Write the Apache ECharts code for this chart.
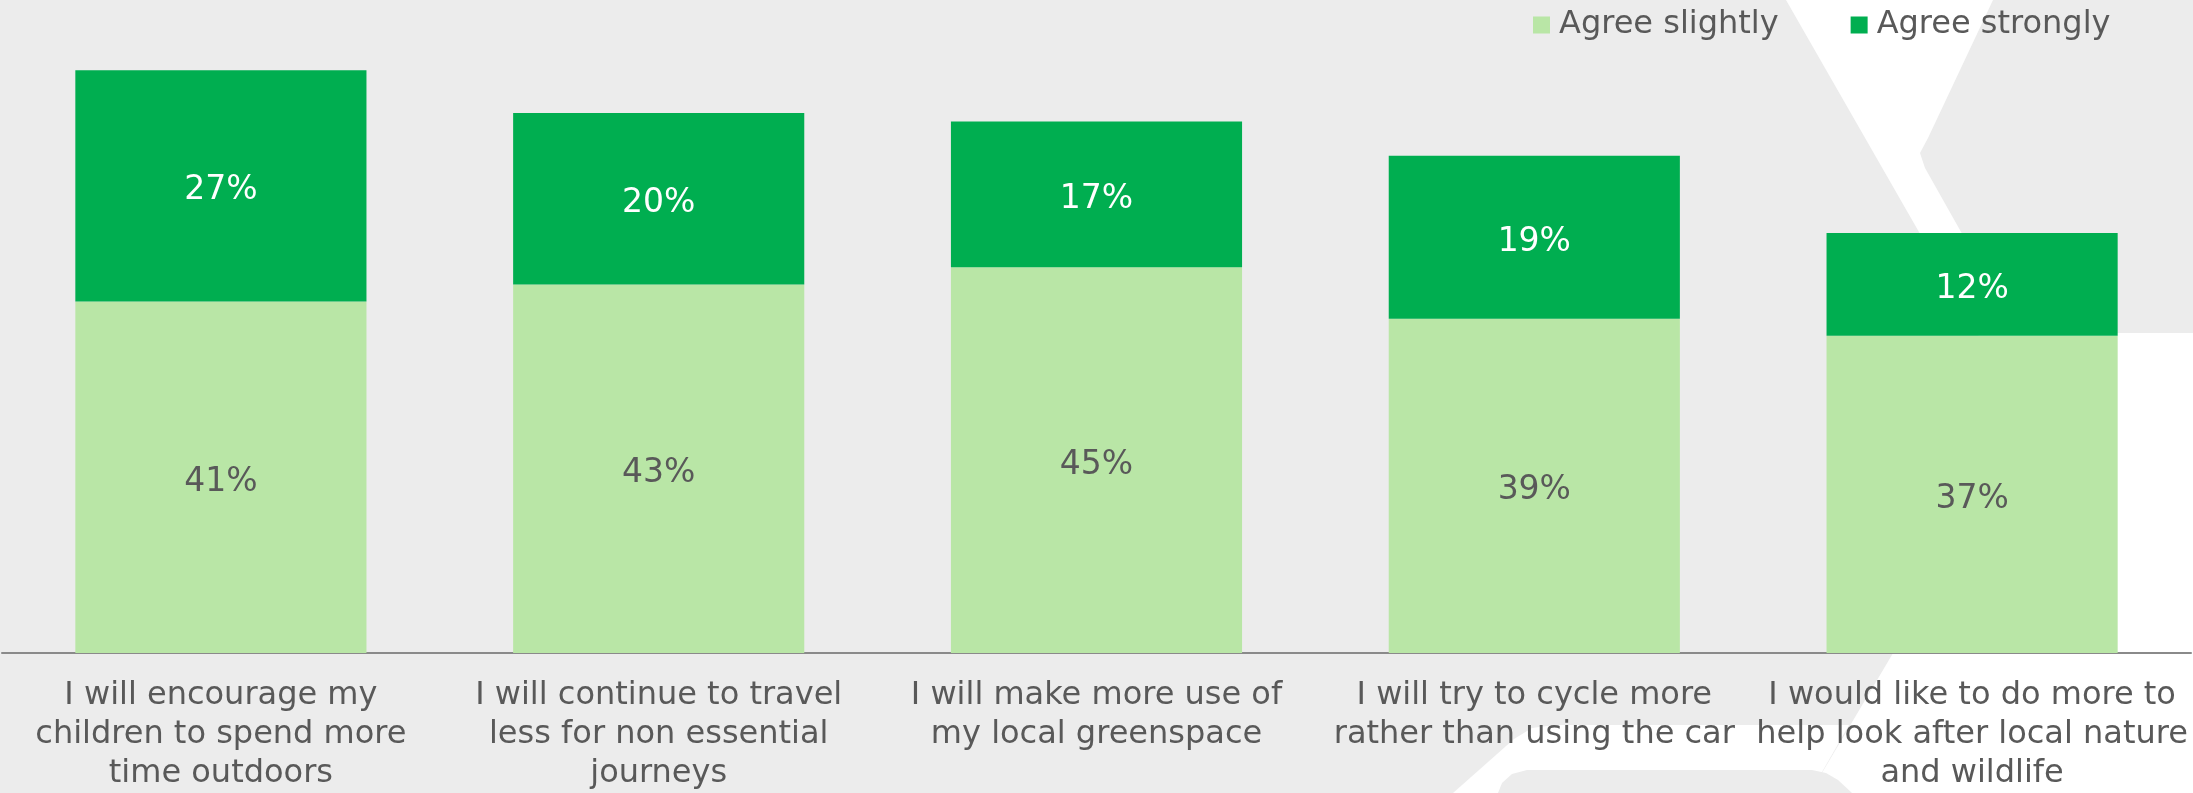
<!DOCTYPE html>
<html>
<head>
<meta charset="utf-8">
<script src="https://cdn.jsdelivr.net/npm/echarts@6/dist/echarts.min.js"></script>
<style>
  html, body { margin: 0; padding: 0; background: #ececec; }
  #chart { width: 2193px; height: 793px; }
</style>
</head>
<body>
<div id="chart"></div>
<script>
// Survey statements (axis labels, with their line breaks)
const categories = [
  'I will encourage my\nchildren to spend more\ntime outdoors',
  'I will continue to travel\nless for non essential\njourneys',
  'I will make more use of\nmy local greenspace',
  'I will try to cycle more\nrather than using the car',
  'I would like to do more to\nhelp look after local nature\nand wildlife'
];
const seriesNames = ['Agree slightly', 'Agree strongly'];
// Share of respondents, in percent
const agreeSlightly = [41, 43, 45, 39, 37];
const agreeStrongly = [27, 20, 17, 19, 12];

const FONT = 'Verdana, "DejaVu Sans", sans-serif';
const TEXT = '#595959';
const LIGHT = '#b9e6a6';
const DARK = '#00ae50';
const BG = '#ececec';

const chart = echarts.init(document.getElementById('chart'), null, { renderer: 'canvas' });

// Watermark shapes behind the plot
const decor = [
  {
    type: 'polygon', z: -10, silent: true,
    shape: { points: [
      [1786, 0], [1993, 0], [1928, 138], [1920, 153], [1925, 168],
      [2018, 333], [2193, 333], [2193, 793], [1810, 793], [2029, 424]
    ] },
    style: { fill: '#ffffff' }
  },
  {
    type: 'polygon', z: -10, silent: true,
    shape: { points: [
      [1453, 793], [1514, 739], [1532, 728], [1555, 725], [1849, 725], [1810, 793]
    ] },
    style: { fill: '#ffffff' }
  },
  {
    type: 'polygon', z: -9, silent: true,
    shape: { points: [
      [1498, 793], [1502, 783], [1512, 774], [1527, 770], [1812, 770],
      [1826, 773], [1838, 780], [1852, 793]
    ] },
    style: { fill: BG }
  }
];

chart.setOption({
  backgroundColor: BG,
  animation: false,
  textStyle: { fontFamily: FONT },
  graphic: decor,
  legend: {
    data: seriesNames,
    left: 1528,
    top: 4,
    itemWidth: 17,
    itemHeight: 17,
    itemGap: 72,
    icon: 'rect',
    textStyle: {
      color: TEXT, fontSize: 32, fontFamily: FONT,
      padding: [0, 0, 0, 4]
    }
  },
  grid: { left: 2, right: 2, top: 53, bottom: 140, containLabel: false },
  xAxis: {
    type: 'category',
    data: categories,
    axisLine: { show: true, lineStyle: { color: '#8a8a8a', width: 2 } },
    axisTick: { show: false },
    axisLabel: {
      interval: 0,
      margin: 23,
      color: TEXT,
      fontSize: 32,
      lineHeight: 39,
      fontFamily: FONT,
      align: 'center'
    }
  },
  yAxis: {
    type: 'value',
    min: 0,
    max: 70,
    show: false,
    splitLine: { show: false }
  },
  series: [
    {
      name: seriesNames[0],
      type: 'bar',
      stack: 'agree',
      data: agreeSlightly,
      barWidth: '66.5%',
      itemStyle: { color: LIGHT },
      label: {
        show: true, position: 'inside', offset: [0, 5],
        formatter: p => p.value + '%',
        color: TEXT, fontSize: 33, fontFamily: FONT
      }
    },
    {
      name: seriesNames[1],
      type: 'bar',
      stack: 'agree',
      data: agreeStrongly,
      barWidth: '66.5%',
      itemStyle: { color: DARK },
      label: {
        show: true, position: 'inside', offset: [0, 5],
        formatter: p => p.value + '%',
        color: '#ffffff', fontSize: 33, fontFamily: FONT
      }
    }
  ]
});
</script>
</body>
</html>
